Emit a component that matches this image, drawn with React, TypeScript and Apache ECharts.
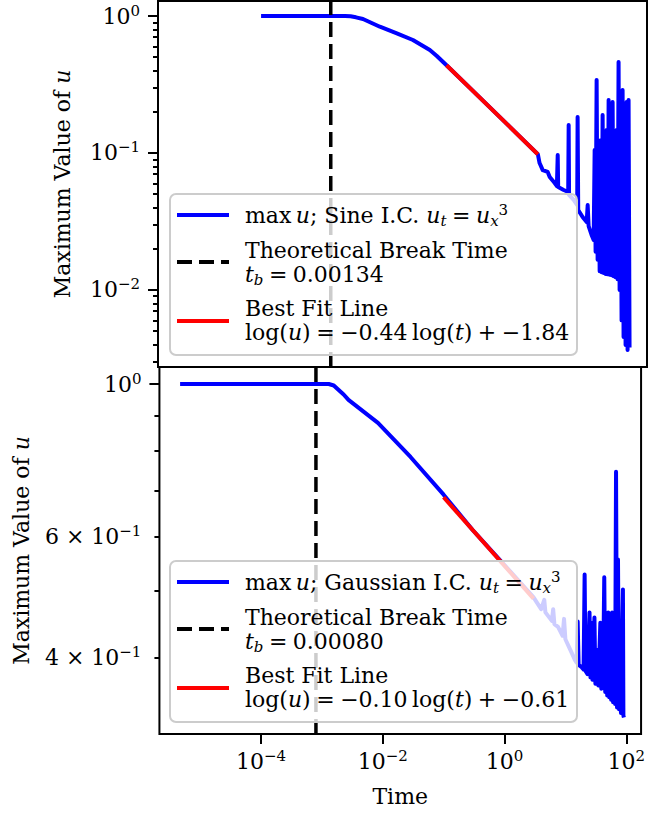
import React, { useEffect, useRef } from 'react';
import * as echarts from 'echarts';

const FONT = "'DejaVu Serif', serif";

// ---- data (time, max u) ----
const sineMaxU: [number, number][] = [
  [1.0e-4, 1.0], [1.0e-3, 1.0], [2.28e-3, 1.0], [2.8e-3, 0.995], [3.43e-3, 0.978],
  [4.45e-3, 0.951], [8.35e-3, 0.835], [0.0157, 0.748], [0.0286, 0.668], [0.0537, 0.565],
  [0.0697, 0.511], [0.1, 0.437], [0.3, 0.27], [1.0, 0.159], [3.0, 0.098],
  [3.2, 0.0845], [3.6, 0.075], [4.33, 0.0727], [4.67, 0.0668], [5.62, 0.0604],
  [6.1, 0.0574], [6.29, 0.0967], [6.4, 0.0565], [7.85, 0.0537], [9.3, 0.0519],
  [9.46, 0.16], [9.6, 0.0494], [11.4, 0.0454], [13.0, 0.0417], [13.2, 0.183],
  [13.5, 0.0384], [15.9, 0.0341], [18.5, 0.0313], [19.2, 0.0417], [19.9, 0.0293],
  [22.2, 0.0252], [24.0, 0.0232], [24.9, 0.105], [25.8, 0.019], [26.8, 0.341],
  [27.8, 0.0166], [28.9, 0.11], [30.0, 0.0137], [31.1, 0.124], [32.3, 0.0135],
  [33.5, 0.189], [34.8, 0.0133], [36.1, 0.12], [37.5, 0.0131], [38.9, 0.147],
  [40.4, 0.013], [41.9, 0.244], [43.5, 0.0129], [45.1, 0.13], [46.8, 0.0128],
  [48.6, 0.236], [50.5, 0.0126], [52.4, 0.125], [54.3, 0.0124], [56.4, 0.147],
  [58.5, 0.012], [60.7, 0.462], [63.1, 0.01], [65.5, 0.13], [67.9, 0.006],
  [70.5, 0.288], [73.1, 0.00454], [75.9, 0.15], [78.8, 0.00397], [81.8, 0.236],
  [84.9, 0.00365], [88.1, 0.244], [91.4, 0.0038],
];

const gaussMaxU: [number, number][] = [
  [4.7e-6, 1.0], [1.0e-4, 1.0], [1.3e-3, 1.0], [1.57e-3, 0.995], [1.89e-3, 0.98],
  [2.28e-3, 0.9655], [2.74e-3, 0.948], [8.35e-3, 0.878], [0.0286, 0.783], [0.1, 0.69],
  [0.3, 0.613], [1.0, 0.545], [3.0, 0.489], [4.0, 0.47], [4.5, 0.485],
  [4.7, 0.465], [6.0, 0.452], [6.3, 0.47], [6.6, 0.447], [7.57, 0.443],
  [9.0, 0.43], [9.5, 0.455], [10.0, 0.425], [12.7, 0.406], [14.2, 0.397],
  [15.3, 0.393], [15.9, 0.451], [16.5, 0.39], [18.5, 0.387], [19.9, 0.384],
  [20.7, 0.528], [21.4, 0.382], [23.1, 0.378], [24.9, 0.465], [25.8, 0.374],
  [26.8, 0.449], [27.8, 0.371], [30.0, 0.457], [31.1, 0.366], [33.5, 0.41],
  [34.8, 0.364], [37.5, 0.449], [38.9, 0.36], [41.9, 0.397], [43.5, 0.523],
  [45.1, 0.356], [46.8, 0.41], [48.6, 0.352], [50.5, 0.465], [52.4, 0.35],
  [54.3, 0.425], [56.4, 0.347], [58.5, 0.465], [60.7, 0.344], [63.1, 0.41],
  [65.5, 0.342], [67.9, 0.745], [70.5, 0.338], [73.1, 0.555], [75.9, 0.336],
  [78.8, 0.425], [81.8, 0.332], [84.9, 0.417], [88.1, 0.502], [89.7, 0.329],
  [91.4, 0.327],
];

// best fit lines: endpoints (time, u)
const sineFit: [number, number][] = [[0.1, 0.437], [3.0, 0.098]];
const gaussFit: [number, number][] = [[0.1, 0.684], [3.0, 0.487]];

const SINE_BREAK = 0.00134;
const GAUSS_BREAK = 0.0008;

// ticks
const xTicks = [1e-4, 1e-2, 1, 100];
const topMajor = [0.01, 0.1, 1];
const topMinor = [
  0.003, 0.004, 0.005, 0.006, 0.007, 0.008, 0.009,
  0.02, 0.03, 0.04, 0.05, 0.06, 0.07, 0.08, 0.09,
  0.2, 0.3, 0.4, 0.5, 0.6, 0.7, 0.8, 0.9,
];
const botMajor = [1];
const botLabels = [0.4, 0.6, 1];
const botMinor = [0.4, 0.5, 0.6, 0.7, 0.8, 0.9];

// extents
const X_MIN = 2.15e-6;
const X_MAX = 175;
const TOP_MIN = 0.00274;
const TOP_MAX = 1.287;
const BOT_MIN = 0.3093;
const BOT_MAX = 1.0587;

const FS = 22;
const SFS = 15;

const labelRich = {
  m: { fontFamily: FONT, fontSize: FS, lineHeight: 26, color: '#000' },
  s: { fontFamily: FONT, fontSize: SFS, lineHeight: 15, verticalAlign: 'top', color: '#000' },
};

const textRich = {
  r: { fontFamily: FONT, fontSize: FS, lineHeight: 26, color: '#000' },
  i: { fontFamily: FONT, fontStyle: 'italic', fontSize: FS, lineHeight: 26, color: '#000' },
  sb: { fontFamily: FONT, fontStyle: 'italic', fontSize: SFS, lineHeight: 15, verticalAlign: 'bottom', color: '#000' },
  sp: { fontFamily: FONT, fontSize: SFS, lineHeight: 15, verticalAlign: 'top', color: '#000' },
};

const exp = (v: number) => {
  const e = Math.round(Math.log10(v));
  return (e < 0 ? '\u2212' : '') + Math.abs(e);
};

const SP = '\u2005';
const TH = '\u2009';

function legend(dy: number, ic: string, tb: string, slope: string, icpt: string) {
  const left = 245;
  const t = (y: number, text: string) => ({
    type: 'text', x: left, y: y + dy, z: 102,
    style: { text, rich: textRich, fontFamily: FONT, fontSize: FS, fill: '#000', align: 'left', verticalAlign: 'middle' },
  });
  const handle = (y: number, color: string, dash?: number[]) => ({
    type: 'line', z: 101,
    shape: { x1: 177, y1: y + dy, x2: 229, y2: y + dy },
    style: { stroke: color, lineWidth: 4, lineDash: dash, lineCap: 'butt' },
  });
  return [
    {
      type: 'rect', z: 100,
      shape: { x: 170, y: 194 + dy, width: 407, height: 161, r: 6 },
      style: { fill: 'rgba(255,255,255,0.8)', stroke: '#cccccc', lineWidth: 2 },
    },
    handle(215, '#0000ff'),
    handle(262, '#000000', [15, 7]),
    handle(321, '#ff0000'),
    t(215, `{r|max${TH}}{i|u}{r|; ${ic} I.C. }{i|u}{sb|t}{r|${SP}=${SP}}{i|u}{sb|x}{sp|3}`),
    t(250.5, '{r|Theoretical Break Time}'),
    t(274.5, `{i|t}{sb|b}{r|${SP}=${SP}${tb}}`),
    t(308.5, '{r|Best Fit Line}'),
    t(332.5, `{r|log(}{i|u}{r|)${SP}=${SP}\u2212${slope}${TH}log(}{i|t}{r|)${SP}+${SP}\u2212${icpt}}`),
  ];
}

function buildOption() {
  const tick = (len: number, values: number[]) => ({
    show: true, length: len, customValues: values, lineStyle: { color: '#000', width: 2 },
  });
  const nameStyle = {
    fontFamily: FONT, fontSize: FS, color: '#000', lineHeight: 26,
    rich: { i: { fontFamily: FONT, fontStyle: 'italic', fontSize: FS, color: '#000', lineHeight: 26 } },
  };
  const baseY = {
    type: 'log', position: 'left', axisLine: { show: false }, splitLine: { show: false },
  };
  const breakSeries = (xi: number, yi: number, x: number, lo: number, hi: number) => ({
    type: 'line', xAxisIndex: xi, yAxisIndex: yi, data: [[x, lo], [x, hi]], symbol: 'none', silent: true,
    lineStyle: { color: '#000', width: 3.5, type: [15, 7] }, z: 3,
  });
  return {
    animation: false,
    backgroundColor: '#fff',
    grid: [
      { left: 158, top: 1, width: 489, height: 366, show: true, borderColor: '#000', borderWidth: 2, backgroundColor: 'rgba(0,0,0,0)' },
      { left: 158, top: 367, width: 489, height: 367, show: true, borderColor: '#000', borderWidth: 2, backgroundColor: 'rgba(0,0,0,0)' },
    ],
    xAxis: [
      {
        type: 'log', gridIndex: 0, min: X_MIN, max: X_MAX,
        axisLine: { show: false }, axisTick: { show: false }, axisLabel: { show: false }, splitLine: { show: false },
      },
      {
        type: 'log', gridIndex: 1, min: X_MIN, max: X_MAX,
        axisLine: { show: false }, splitLine: { show: false },
        axisTick: tick(10, xTicks),
        axisLabel: {
          customValues: xTicks, margin: 14, color: '#000',
          formatter: (v: number) => `{m|10}{s|${exp(v)}}`, rich: labelRich,
        },
        name: 'Time', nameLocation: 'middle', nameGap: 49, nameTextStyle: nameStyle,
      },
    ],
    yAxis: [
      {
        ...baseY, gridIndex: 0, min: TOP_MIN, max: TOP_MAX,
        axisTick: tick(10, topMajor),
        axisLabel: {
          customValues: topMajor, margin: 18, color: '#000',
          formatter: (v: number) => `{m|10}{s|${exp(v)}}`, rich: labelRich,
        },
        name: 'Maximum Value of {i|u}', nameLocation: 'middle', nameRotate: 90, nameGap: 83, nameTextStyle: nameStyle,
      },
      {
        ...baseY, gridIndex: 0, min: TOP_MIN, max: TOP_MAX,
        axisTick: tick(5, topMinor), axisLabel: { show: false },
      },
      {
        ...baseY, gridIndex: 1, min: BOT_MIN, max: BOT_MAX,
        axisTick: tick(10, botMajor),
        axisLabel: {
          customValues: botLabels, margin: 18, color: '#000',
          formatter: (v: number) =>
            Math.abs(v - 1) < 1e-9 ? '{m|10}{s|0}' : `{m|${Math.round(v * 10)} \u00d7 10}{s|\u22121}`,
          rich: labelRich,
        },
        name: 'Maximum Value of {i|u}', nameLocation: 'middle', nameRotate: 90, nameGap: 122, nameTextStyle: nameStyle,
      },
      {
        ...baseY, gridIndex: 1, min: BOT_MIN, max: BOT_MAX,
        axisTick: tick(5, botMinor), axisLabel: { show: false },
      },
    ],
    series: [
      {
        type: 'line', xAxisIndex: 0, yAxisIndex: 0, data: sineMaxU, symbol: 'none', silent: true,
        lineStyle: { color: '#0000ff', width: 4, join: 'round', cap: 'butt' }, z: 2,
      },
      breakSeries(0, 0, SINE_BREAK, TOP_MIN, TOP_MAX),
      {
        type: 'line', xAxisIndex: 0, yAxisIndex: 0, data: sineFit, symbol: 'none', silent: true,
        lineStyle: { color: '#ff0000', width: 4 }, z: 4,
      },
      {
        type: 'line', xAxisIndex: 1, yAxisIndex: 2, data: gaussMaxU, symbol: 'none', silent: true,
        lineStyle: { color: '#0000ff', width: 4, join: 'round', cap: 'butt' }, z: 2,
      },
      breakSeries(1, 2, GAUSS_BREAK, BOT_MIN, BOT_MAX),
      {
        type: 'line', xAxisIndex: 1, yAxisIndex: 2, data: gaussFit, symbol: 'none', silent: true,
        lineStyle: { color: '#ff0000', width: 4 }, z: 4,
      },
    ],
    graphic: [
      ...legend(0, 'Sine', '0.00134', '0.44', '1.84'),
      ...legend(367, 'Gaussian', '0.00080', '0.10', '0.61'),
    ],
  };
}

export default function App() {
  const ref = useRef<HTMLDivElement>(null);
  useEffect(() => {
    if (!ref.current) return;
    const chart = echarts.init(ref.current, undefined, { renderer: 'svg' });
    chart.setOption(buildOption() as any);
    return () => chart.dispose();
  }, []);
  return (
    <div
      ref={ref}
      style={{ position: 'absolute', left: 0, top: 0, width: 648, height: 813, background: '#fff' }}
    />
  );
}
